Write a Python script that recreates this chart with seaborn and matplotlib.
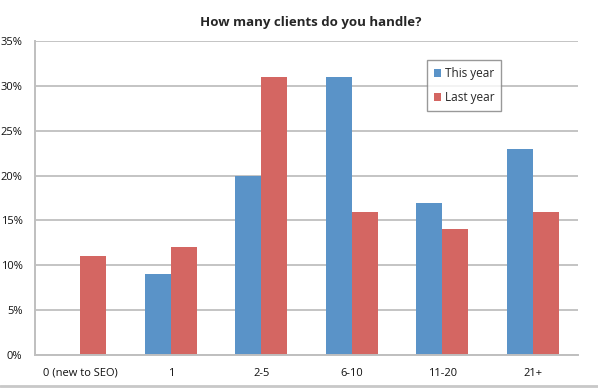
import matplotlib
matplotlib.use("Agg")
import matplotlib.pyplot as plt
import seaborn as sns
import pandas as pd
from matplotlib.ticker import PercentFormatter
from matplotlib.lines import Line2D

categories = ["0 (new to SEO)", "1", "2-5", "6-10", "11-20", "21+"]
this_year = [0, 9, 20, 31, 17, 23]
last_year = [11, 12, 31, 16, 14, 16]
series = ["This year", "Last year"]
colors = ["#5A93C8", "#D46662"]

df = pd.DataFrame({
    "category": categories * 2,
    "value": this_year + last_year,
    "series": [series[0]] * len(categories) + [series[1]] * len(categories),
})

sns.set_style("white")
plt.rcParams["font.family"] = ["Open Sans", "DejaVu Sans"]

fig = plt.figure(figsize=(5.98, 3.88), dpi=100)
ax = fig.add_axes([0.0585, 0.085, 0.908, 0.809])

sns.barplot(
    data=df, x="category", y="value", hue="series",
    palette=colors, width=0.575, gap=0, saturation=1,
    linewidth=0, edgecolor="none",
    ax=ax, legend=True,
)

ax.set_ylim(0, 35)
ax.set_yticks(range(0, 36, 5))
ax.yaxis.set_major_formatter(PercentFormatter(decimals=0))
ax.grid(axis="y", color="#C4C4C4", linewidth=1.4)
ax.set_axisbelow(True)
for s in ["top", "right"]:
    ax.spines[s].set_visible(False)
ax.spines["left"].set_color("#BFBFBF")
ax.spines["bottom"].set_color("#BFBFBF")
ax.spines["left"].set_linewidth(1.4)
ax.spines["bottom"].set_linewidth(1.4)
ax.tick_params(axis="both", length=0, labelsize=8, pad=9, labelcolor="#111111")
ax.set_xlabel("")
ax.set_ylabel("")

fig.suptitle("How many clients do you handle?", x=0.52, y=0.96,
             fontsize=9.5, fontweight="bold")

leg = ax.legend(loc="upper left", bbox_to_anchor=(0.711, 0.958),
                frameon=True, fancybox=False, fontsize=8.5,
                handlelength=0.6, handleheight=0.6, handletextpad=0.3,
                labelspacing=0.9, borderpad=0.6)
leg.get_frame().set_edgecolor("#808080")
leg.get_frame().set_linewidth(1.0)

fig.add_artist(Line2D([0, 1], [0.006, 0.006], color="#C8C8C8",
                      linewidth=2, transform=fig.transFigure))

fig.savefig("out.png", dpi=100)
plt.close(fig)
